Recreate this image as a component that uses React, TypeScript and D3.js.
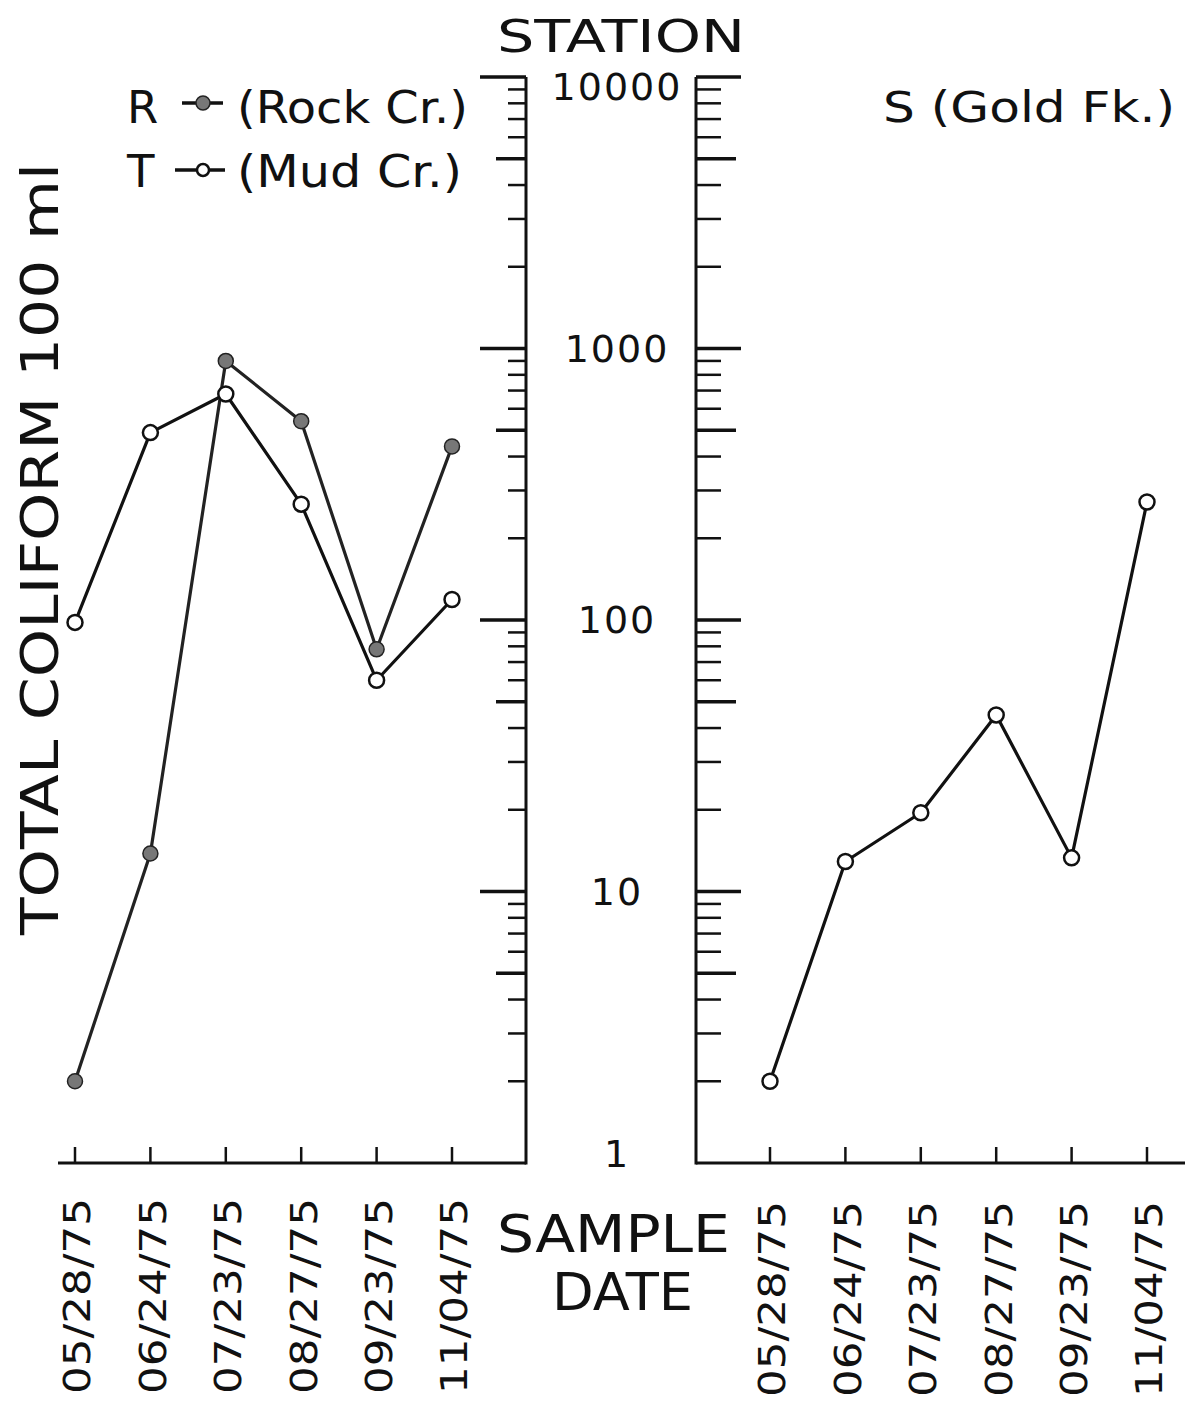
import React from "react";
import * as d3 from "d3";

const dates = ["05/28/75", "06/24/75", "07/23/75", "08/27/75", "09/23/75", "11/04/75"];
const rockCr = [2, 13.8, 900, 540, 78, 436];
const mudCr = [98, 490, 680, 267, 60, 119];
const goldFk = [2, 12.9, 19.5, 44.7, 13.3, 272];
const yTickLabels = [1, 10, 100, 1000, 10000];

const FONT = "'DejaVu Sans', sans-serif";
const ADJ = "spacingAndGlyphs";

export default function App() {
  const W = 1185;
  const H = 1405;
  const y = d3.scaleLog().domain([1, 10000]).range([1163, 77]);
  const xL = d3.scalePoint<string>().domain(dates).range([75, 452]);
  const xR = d3.scalePoint<string>().domain(dates).range([770, 1147]);
  const axL = 526;
  const axR = 696;
  const base = y(1);
  const top = y(10000);
  const ticks = y.ticks();

  const kind = (v: number) => {
    const m = Math.round(v / Math.pow(10, Math.floor(Math.log10(v) + 1e-9)));
    return m === 1 ? "major" : m === 5 ? "five" : "minor";
  };
  const lenL: Record<string, number> = { major: 46, five: 30, minor: 18 };
  const lenR: Record<string, number> = { major: 45, five: 40, minor: 25 };

  const line = (xs: d3.ScalePoint<string>, vals: number[]) =>
    d3
      .line<number>()
      .x((_, i) => xs(dates[i]) as number)
      .y((v) => y(v))(vals) as string;

  return (
    <svg
      width={W}
      height={H}
      style={{ position: "absolute", left: 0, top: 0, background: "#fff" }}
      fontFamily={FONT}
    >
      <rect width={W} height={H} fill="#fff" />
      {/* STATION */}
      <text x={497} y={52} fontSize={44} textLength={248} lengthAdjust={ADJ} fill="#111">
        STATION
      </text>

      {/* Axes */}
      <g stroke="#111" strokeWidth={3} fill="none">
        <line x1={axL} y1={top} x2={axL} y2={base + 1.5} />
        <line x1={58} y1={base} x2={axL} y2={base} />
        <line x1={axR} y1={top} x2={axR} y2={base + 1.5} />
        <line x1={axR} y1={base} x2={W} y2={base} />
        {ticks
          .filter((v) => v > 1)
          .map((v, i) => (
            <g key={i}>
              <line x1={axL} x2={axL - lenL[kind(v)]} y1={y(v)} y2={y(v)} strokeWidth={kind(v) === "minor" ? 2.5 : 3.5} />
              <line x1={axR} x2={axR + lenR[kind(v)]} y1={y(v)} y2={y(v)} strokeWidth={kind(v) === "minor" ? 2.5 : 3.5} />
            </g>
          ))}
        {dates.map((d) => (
          <g key={d}>
            <line x1={xL(d)} x2={xL(d)} y1={base} y2={base - 16} strokeWidth={2.5} />
            <line x1={xR(d)} x2={xR(d)} y1={base} y2={base - 16} strokeWidth={2.5} />
          </g>
        ))}
      </g>

      {/* Y tick labels between panels */}
      {yTickLabels.map((v) => (
        <text
          key={v}
          x={617}
          y={Math.min(Math.max(y(v), 87), 1154)}
          textAnchor="middle"
          dominantBaseline="central"
          fontSize={38}
          letterSpacing={2}
          fill="#111"
        >
          {v}
        </text>
      ))}

      {/* Y title */}
      <text
        transform={`translate(58,935) rotate(-90)`}
        fontSize={52}
        textLength={772}
        lengthAdjust={ADJ}
        fill="#111"
      >
        TOTAL COLIFORM 100 ml
      </text>

      {/* Date labels */}
      {dates.map((d) => (
        <g key={d}>
          <text
            transform={`translate(${(xL(d) as number) + 2},1394) rotate(-90)`}
            dy="0.36em"
            fontSize={37}
            textLength={196}
            lengthAdjust={ADJ}
            fill="#111"
          >
            {d}
          </text>
          <text
            transform={`translate(${(xR(d) as number) + 2},1397) rotate(-90)`}
            dy="0.36em"
            fontSize={37}
            textLength={196}
            lengthAdjust={ADJ}
            fill="#111"
          >
            {d}
          </text>
        </g>
      ))}

      {/* SAMPLE DATE */}
      <text x={497} y={1252} fontSize={51} textLength={233} lengthAdjust={ADJ} fill="#111">
        SAMPLE
      </text>
      <text x={552} y={1310} fontSize={51} textLength={141} lengthAdjust={ADJ} fill="#111">
        DATE
      </text>

      {/* Legend */}
      <text x={127} y={123} fontSize={45} fill="#111">R</text>
      <line x1={182} x2={223} y1={103} y2={103} stroke="#111" strokeWidth={3.5} />
      <circle cx={203} cy={103} r={7} fill="#777" stroke="#222" strokeWidth={1.5} />
      <text x={237} y={123} fontSize={45} textLength={231} lengthAdjust={ADJ} fill="#111">
        (Rock Cr.)
      </text>
      <text x={127} y={187} fontSize={45} fill="#111">T</text>
      <line x1={175} x2={225} y1={170} y2={170} stroke="#111" strokeWidth={3.5} />
      <circle cx={203} cy={170} r={6} fill="#fff" stroke="#111" strokeWidth={2.5} />
      <text x={237} y={187} fontSize={45} textLength={225} lengthAdjust={ADJ} fill="#111">
        (Mud Cr.)
      </text>

      <text x={883} y={122} fontSize={42} textLength={292} lengthAdjust={ADJ} fill="#111">
        S (Gold Fk.)
      </text>

      {/* Series lines */}
      <g fill="none" stroke="#111" strokeWidth={3.2} strokeLinejoin="round">
        <path d={line(xL, mudCr)} />
        <path d={line(xL, rockCr)} stroke="#222" />
        <path d={line(xR, goldFk)} />
      </g>

      {/* Markers */}
      {mudCr.map((v, i) => (
        <circle key={"m" + i} cx={xL(dates[i])} cy={y(v)} r={7.5} fill="#fff" stroke="#111" strokeWidth={2.5} />
      ))}
      {rockCr.map((v, i) => (
        <circle key={"r" + i} cx={xL(dates[i])} cy={y(v)} r={7.5} fill="#777" stroke="#222" strokeWidth={1.5} />
      ))}
      {goldFk.map((v, i) => (
        <circle key={"g" + i} cx={xR(dates[i])} cy={y(v)} r={7.5} fill="#fff" stroke="#111" strokeWidth={2.5} />
      ))}
    </svg>
  );
}
